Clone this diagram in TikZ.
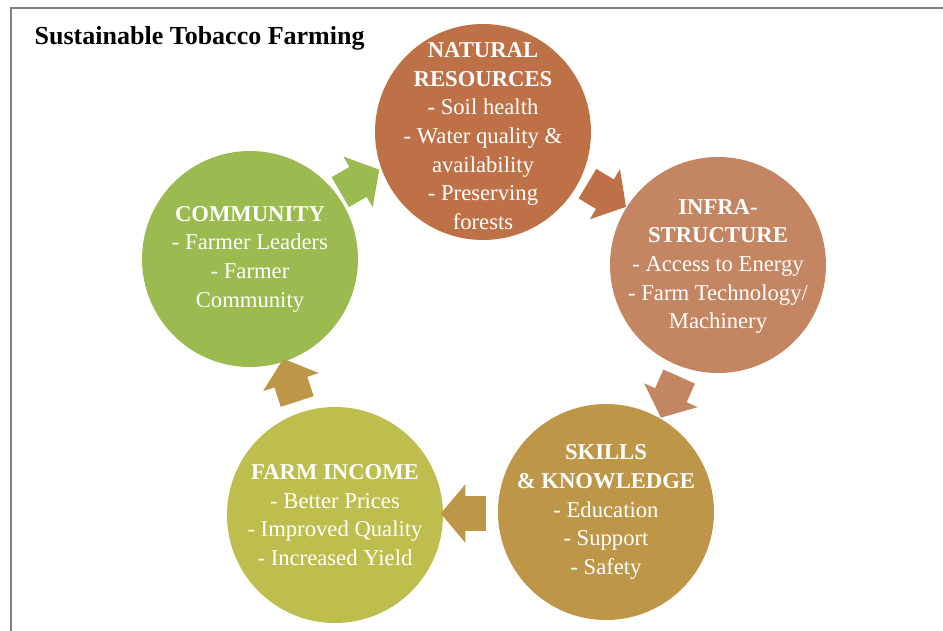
\documentclass[tikz,border=0pt]{standalone}
\usepackage{fontspec}
\setmainfont{Liberation Serif}
\usepackage{tikz}
\usetikzlibrary{shapes.arrows,calc}
\definecolor{natcol}{RGB}{190,113,71}
\definecolor{infracol}{RGB}{196,134,98}
\definecolor{skillcol}{RGB}{190,150,72}
\definecolor{farmcol}{RGB}{189,190,78}
\definecolor{commcol}{RGB}{155,187,80}
\pgfkeys{tikz/mycircle/.style={circle, 
                                   minimum size=162pt, 
                                   inner sep=0pt}}
\pgfkeys{tikz/mytext/.style={text=white, 
                                 align=center, 
                                 inner sep=0pt, 
                                 font=\fontsize{17}{21.5}\selectfont}}
\pgfkeys{tikz/myarrow/.style={single arrow, 
                                  minimum height=33.75pt, 
                                  inner xsep=0pt, 
                                  inner ysep=12.75pt, 
                                  single arrow head extend=9pt, 
                                  single arrow tip angle=100}}
\begin{document}
\begin{tikzpicture}[x=0.75pt,y=-0.75pt]
                    \useasboundingbox (0,0) rectangle (943,631);
                    \draw [gray,line width=1.5pt] (11,631) -- (11,8) -- (943,8);
                    \node [anchor=west,font=\bfseries\fontsize{19.5}{22}\selectfont] (title) at (30,38) {Sustainable Tobacco Farming};
                    \node [mycircle,fill=natcol] (nat) at (483,132) {};
                    \node [mycircle,fill=infracol] (infra) at (718,265) {};
                    \node [mycircle,fill=skillcol] (skills) at (606,512) {};
                    \node [mycircle,fill=farmcol] (farm) at (335,515) {};
                    \node [mycircle,fill=commcol] (comm) at (250,259) {};
                    \node [mytext] (nattext) at ([yshift=-3pt]nat) {\textbf{NATURAL}\\\textbf{RESOURCES}\\- Soil health\\- Water quality \&\\availability\\- Preserving\\forests};
                    \node [mytext] (infratext) at ([yshift=-1pt]infra) {\textbf{INFRA-}\\\textbf{STRUCTURE}\\- Access to Energy\\- Farm Technology/\\Machinery};
                    \node [mytext] (skillstext) at (skills) {\textbf{SKILLS}\\\textbf{\& KNOWLEDGE}\\- Education\\- Support\\- Safety};
                    \node [mytext] (farmtext) at (farm) {\textbf{FARM INCOME}\\- Better Prices\\- Improved Quality\\- Increased Yield};
                    \node [mytext] (commtext) at (comm) {\textbf{COMMUNITY}\\- Farmer Leaders\\- Farmer\\Community};
                        \node [myarrow,fill=natcol,rotate=-31] (natarrow) at ($(nat)!0.5!(infra)+(0,-7)$) {};
                        \node [myarrow,fill=infracol,rotate=-114] (infraarrow) at ($(infra)!0.5!(skills)+(11,2)$) {};
                        \node [myarrow,fill=skillcol,rotate=180] (skillsarrow) at ($(skills)!0.5!(farm)$) {};
                        \node [myarrow,fill=skillcol,rotate=108] (farmarrow) at ($(farm)!0.5!(comm)$) {};
                        \node [myarrow,fill=commcol,rotate=30] (commarrow) at ($(comm)!0.5!(nat)+(-13,-11)$) {};
                \end{tikzpicture}
\end{document}
